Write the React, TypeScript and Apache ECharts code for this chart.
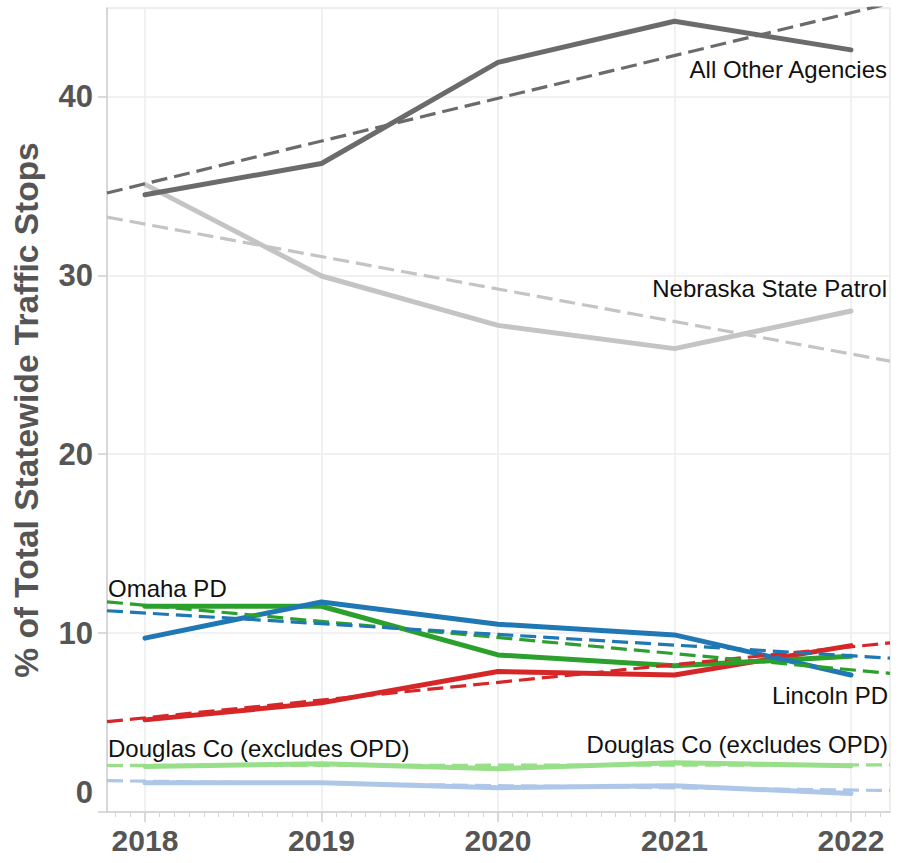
import React, { useEffect, useRef } from "react";
import * as echarts from "echarts";

const years = [2018, 2019, 2020, 2021, 2022];
const yTicks = [0, 10, 20, 30, 40];

const allOther = [34.5, 36.25, 41.9, 44.2, 42.6];
const nsp = [35.08, 29.96, 27.2, 25.9, 28.0];
const omaha = [9.72, 11.74, 10.5, 9.9, 7.66];
const lincoln = [11.5, 11.5, 8.78, 8.17, 8.7];
const redAgency = [5.15, 6.1, 7.85, 7.66, 9.3];
const douglasA = [2.54, 2.7, 2.42, 2.75, 2.59];
const douglasB = [1.64, 1.64, 1.36, 1.47, 1.03];

// trend line values read at the left and right edges of the plot
const trendAllOther = [34.6, 45.2];
const trendNsp = [33.25, 25.2];
const trendOmaha = [11.25, 8.6];
const trendLincoln = [11.75, 7.75];
const trendRed = [5.05, 9.45];
const trendDouglasA = [2.6, 2.63];
const trendDouglasB = [1.75, 1.2];

const X_MIN = 2017.785;
const X_MAX = 2022.221;
const Y_MAX = 44.94;

const FONT = '"Liberation Sans", Arial, Helvetica, sans-serif';

export default function App() {
  const ref = useRef<HTMLDivElement>(null);

  useEffect(() => {
    if (!ref.current) return;
    const chart = echarts.init(ref.current, null, { renderer: "svg" });

    const months: number[] = [];
    for (let y = 2017; y <= 2022; y++) {
      for (let m = 0; m < 12; m++) {
        const v = y + m / 12;
        if (v >= X_MIN && v <= X_MAX) months.push(v);
      }
    }

    const solid = (name: string, vals: number[], color: string) => ({
      name,
      type: "line",
      xAxisIndex: 0,
      data: years.map((yr, i) => [yr, vals[i]]),
      showSymbol: false,
      symbol: "none",
      lineStyle: { color, width: 5, cap: "round", join: "round" },
      z: 2,
    });
    const trend = (name: string, vals: number[], color: string) => ({
      name: name + " trend",
      type: "line",
      xAxisIndex: 0,
      data: [
        [X_MIN, vals[0]],
        [X_MAX, vals[1]],
      ],
      showSymbol: false,
      symbol: "none",
      lineStyle: { color, width: 3.2, type: [16, 7] },
      z: 3,
    });

    const label = (text: string, x: number, y: number, align: string) => ({
      type: "text",
      x,
      y,
      style: {
        text,
        fill: "#111",
        font: `24px ${FONT}`,
        textAlign: align,
        textVerticalAlign: "middle",
      },
      z: 10,
    });

    chart.setOption({
      animation: false,
      backgroundColor: "#fff",
      grid: {
        left: 107,
        right: 12,
        top: 8,
        bottom: 51,
        show: true,
        borderColor: "#dcdcdc",
        borderWidth: 1,
      },
      xAxis: [
        {
          type: "value",
          min: X_MIN,
          max: X_MAX,
          position: "bottom",
          axisLine: { show: true, lineStyle: { color: "#cfcfcf", width: 1.5 } },
          axisTick: {
            show: true,
            customValues: years,
            length: 10,
            lineStyle: { color: "#cfcfcf", width: 1.5 },
          },
          axisLabel: {
            customValues: years,
            formatter: (v: number) => String(Math.round(v)),
            color: "#555",
            fontFamily: FONT,
            fontWeight: "bold",
            fontSize: 30,
            margin: 13,
          },
          splitLine: { show: true, lineStyle: { color: "#ececec", width: 1.5 } },
        },
        {
          type: "value",
          min: X_MIN,
          max: X_MAX,
          position: "bottom",
          axisLine: { show: false },
          axisTick: {
            show: true,
            customValues: months,
            length: 5,
            lineStyle: { color: "#d6d6d6", width: 1 },
          },
          axisLabel: { show: false },
          splitLine: { show: false },
        },
      ],
      yAxis: {
        type: "value",
        min: 0,
        max: Y_MAX,
        name: "% of Total Statewide Traffic Stops",
        nameLocation: "middle",
        nameGap: 64,
        nameTextStyle: {
          color: "#555",
          fontFamily: FONT,
          fontWeight: "bold",
          fontSize: 33.5,
        },
        axisLine: { show: true, lineStyle: { color: "#cfcfcf", width: 1.5 } },
        axisTick: {
          show: true,
          customValues: yTicks,
          length: 9,
          lineStyle: { color: "#cfcfcf", width: 1.5 },
        },
        axisLabel: {
          customValues: yTicks,
          formatter: (v: number) => (v === 0 ? "{z|0}" : String(v)),
          color: "#555",
          fontFamily: FONT,
          fontWeight: "bold",
          fontSize: 31,
          margin: 14,
          rich: {
            z: {
              color: "#555",
              fontFamily: FONT,
              fontWeight: "bold",
              fontSize: 31,
              padding: [0, 0, 40, 0],
            },
          },
        },
        splitLine: { show: true, lineStyle: { color: "#ececec", width: 1.5 } },
      },
      series: [
        solid("Nebraska State Patrol", nsp, "#c4c4c4"),
        solid("All Other Agencies", allOther, "#6b6b6b"),
        solid("Douglas Co (excludes OPD) A", douglasA, "#98df8a"),
        solid("Douglas Co (excludes OPD) B", douglasB, "#aec7e8"),
        solid("Red agency", redAgency, "#d62728"),
        solid("Lincoln PD", lincoln, "#2ca02c"),
        solid("Omaha PD", omaha, "#1f77b4"),
        trend("Nebraska State Patrol", trendNsp, "#c4c4c4"),
        trend("All Other Agencies", trendAllOther, "#6b6b6b"),
        trend("Douglas Co (excludes OPD) A", trendDouglasA, "#98df8a"),
        trend("Douglas Co (excludes OPD) B", trendDouglasB, "#aec7e8"),
        trend("Red agency", trendRed, "#d62728"),
        trend("Lincoln PD", trendLincoln, "#2ca02c"),
        trend("Omaha PD", trendOmaha, "#1f77b4"),
      ],
      graphic: [
        label("All Other Agencies", 887, 69, "right"),
        label("Nebraska State Patrol", 887, 288, "right"),
        label("Omaha PD", 108, 588, "left"),
        label("Lincoln PD", 888, 695, "right"),
        label("Douglas Co (excludes OPD)", 108, 748, "left"),
        label("Douglas Co (excludes OPD)", 888, 744, "right"),
      ],
    });

    return () => chart.dispose();
  }, []);

  return (
    <div
      ref={ref}
      style={{ position: "fixed", left: 0, top: 0, width: 902, height: 863 }}
    />
  );
}
